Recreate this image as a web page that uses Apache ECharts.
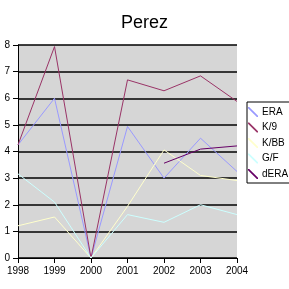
<!DOCTYPE html>
<html>
<head>
<meta charset="utf-8">
<script src="https://cdn.jsdelivr.net/npm/echarts@6/dist/echarts.min.js"></script>
<style>
  html, body { margin: 0; padding: 0; background: #fff; }
  #main { width: 289px; height: 289px; }
</style>
</head>
<body>
<div id="main"></div>
<script>
const years = ["1998", "1999", "2000", "2001", "2002", "2003", "2004"];
const era = [4.25, 6.0, 0, 4.94, 3.0, 4.5, 3.25];
const k9 = [4.25, 7.94, 0, 6.69, 6.28, 6.84, 5.88];
const kbb = [1.21, 1.54, 0, 1.94, 4.06, 3.1, 2.91];
const gf = [3.16, 2.1, 0, 1.63, 1.34, 2.0, 1.63];
const dera = [null, null, null, null, 3.56, 4.09, 4.21];

const names = ["ERA", "K/9", "K/BB", "G/F", "dERA"];
const colors = ["#9999ff", "#993366", "#ffffcc", "#ccffff", "#660066"];
const seriesData = [era, k9, kbb, gf, dera];

// diagonal stroke for legend icon
const slash = "path://M0,0L1.2,0L10,8.8L10,10L8.8,10L0,1.2Z";

const chart = echarts.init(document.getElementById("main"));
chart.setOption({
  animation: false,
  color: colors,
  title: {
    text: "Perez",
    left: "center",
    top: 9,
    textStyle: { fontFamily: "Liberation Sans", fontWeight: "normal", fontSize: 18, color: "#000" },
  },
  legend: {
    orient: "vertical",
    left: 247,
    top: 102,
    width: 44,
    padding: [5, 6, 4, 1],
    itemGap: 5.5,
    itemWidth: 10,
    itemHeight: 10,
    borderColor: "#000",
    borderWidth: 1,
    backgroundColor: "#fff",
    textStyle: { fontFamily: "Liberation Sans", fontSize: 10, color: "#000", padding: [0, 0, 0, -1] },
    data: names.map((n) => ({ name: n, icon: slash })),
  },
  grid: {
    left: 18,
    right: 52,
    top: 45,
    bottom: 31,
    show: true,
    backgroundColor: "#d6d6d6",
    borderWidth: 0,
  },
  xAxis: {
    type: "category",
    data: years,
    boundaryGap: false,
    axisLine: { lineStyle: { color: "#000", width: 1 } },
    axisTick: { show: true, length: 5, lineStyle: { color: "#000" } },
    axisLabel: { color: "#000", fontFamily: "Liberation Sans", fontSize: 10, margin: 8 },
  },
  yAxis: {
    type: "value",
    min: 0,
    max: 8,
    interval: 1,
    axisLine: { show: true, lineStyle: { color: "#000", width: 1 } },
    axisTick: { show: true, length: 5, lineStyle: { color: "#000" } },
    axisLabel: { color: "#000", fontFamily: "Liberation Sans", fontSize: 10, margin: 8 },
    splitLine: { lineStyle: { color: "#000", width: 1.5 } },
  },
  series: names.map((n, i) => ({
    name: n,
    type: "line",
    data: seriesData[i],
    symbol: "none",
    lineStyle: { width: 1, color: colors[i] },
    itemStyle: { color: colors[i] },
    connectNulls: false,
  })),
});
</script>
</body>
</html>
